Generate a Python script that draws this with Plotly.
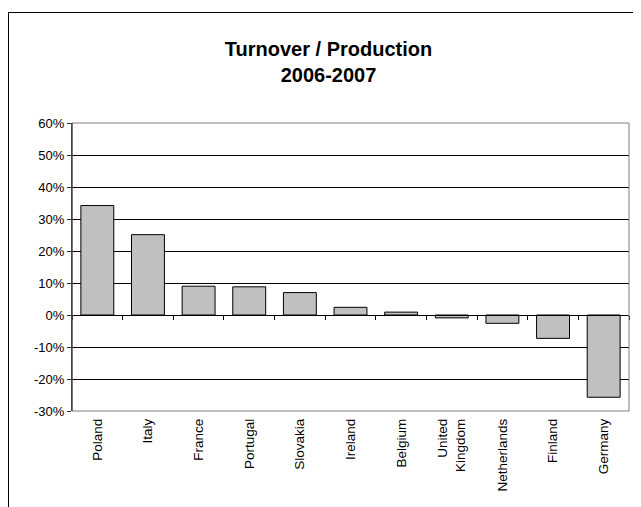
import plotly.graph_objects as go

categories = ["Poland", "Italy", "France", "Portugal", "Slovakia", "Ireland",
              "Belgium", "United<br>Kingdom", "Netherlands", "Finland", "Germany"]
values = [34.2, 25.1, 9.0, 8.8, 7.0, 2.4, 0.9, -0.9, -2.6, -7.3, -25.7]
y_ticks = [-30, -20, -10, 0, 10, 20, 30, 40, 50, 60]
y_labels = [f"{v}%" for v in y_ticks]
title_lines = ["Turnover / Production", "2006-2007"]

W, H = 641, 507
# page is offset by 8px body margin
L, T = 64, 115
R = W - 621
B = H - 403
pw, ph = W - L - R, H - T - B

FAM = "Liberation Sans, Arial, sans-serif"
yfont = dict(family=FAM, size=13, color="black")
xfont = dict(family=FAM, size=13.5, color="black")

fig = go.Figure()
fig.add_trace(go.Bar(
    x=categories, y=values, xaxis="x", yaxis="y",
    marker=dict(color="#C0C0C0", line=dict(color="black", width=1)),
    hoverinfo="x+y",
))
# invisible copy to drive the category axis drawn at zero
fig.add_trace(go.Bar(
    x=categories, y=values, xaxis="x2", yaxis="y",
    marker=dict(color="rgba(0,0,0,0)", line=dict(width=0)),
    hoverinfo="skip", showlegend=False,
))

ymin, ymax = y_ticks[0], y_ticks[-1]
zero_pos = (0 - ymin) / (ymax - ymin)

fig.update_layout(
    width=W, height=H,
    margin=dict(l=L, r=R, t=T, b=B),
    paper_bgcolor="white", plot_bgcolor="white",
    showlegend=False, bargap=0.35,
    font=yfont,
    title=dict(text="<br>".join(f"<b>{t}</b>" for t in title_lines),
               x=0.5, xanchor="center", xref="container",
               y=1 - 47.5 / H, yanchor="middle", yref="container",
               font=dict(family=FAM, size=20, color="black")),
    xaxis=dict(type="category", range=[-0.5, len(categories) - 0.5],
               showline=False, showgrid=False, zeroline=False, ticks="",
               tickangle=-90, tickfont=xfont, ticklabelstandoff=4),
    xaxis2=dict(type="category", overlaying="x", anchor="free", position=zero_pos,
                range=[-0.5, len(categories) - 0.5],
                showline=True, linecolor="black", linewidth=1,
                ticks="outside", tickson="boundaries", ticklen=4, tickcolor="black",
                showticklabels=False, showgrid=False, zeroline=False),
    yaxis=dict(range=[ymin, ymax], tickvals=y_ticks, ticktext=y_labels,
               showgrid=True, gridcolor="black", gridwidth=1,
               zeroline=False, showline=True, linecolor="#333333", linewidth=1,
               ticks="outside", ticklen=4, tickcolor="#333333", tickfont=yfont),
    shapes=[
        dict(type="rect", xref="paper", yref="paper", x0=0, x1=1, y0=0, y1=1,
             line=dict(color="#808080", width=1), layer="above"),
        dict(type="line", xref="paper", yref="paper", x0=0, x1=0, y0=0, y1=1,
             line=dict(color="#333333", width=1), layer="above"),
        dict(type="rect", xref="paper", yref="paper",
             x0=(0.5 - L) / pw, x1=(W + 5 - L) / pw,
             y0=(ph - (H + 5 - T)) / ph, y1=(ph - (4.5 - T)) / ph,
             line=dict(color="black", width=1), layer="below"),
    ],
)

fig.write_html("out.html")
